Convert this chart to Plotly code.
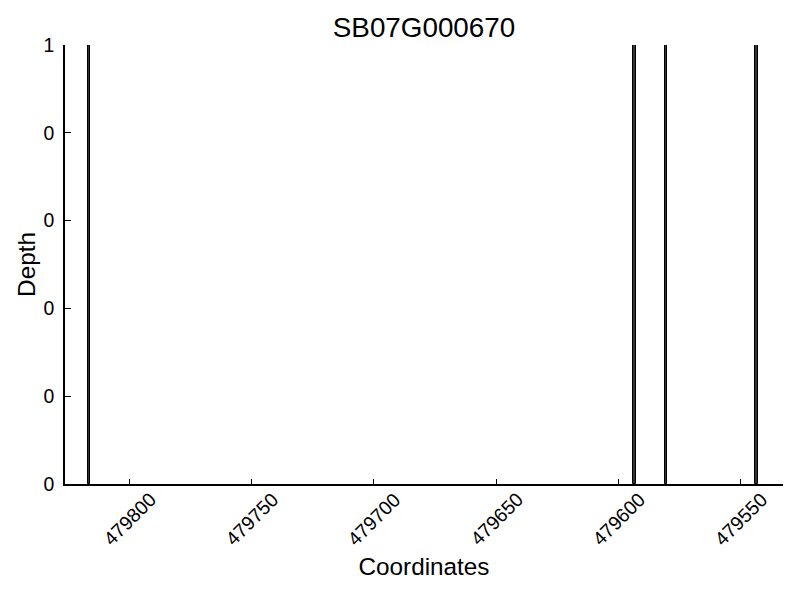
import plotly.graph_objects as go

# Data
positions = [479816, 479593, 479580, 479543]
depths = [1, 1, 1, 1]
x_tick_vals = [479800, 479750, 479700, 479650, 479600, 479550]
x_tick_text = ["479800", "479750", "479700", "479650", "479600", "479550"]
y_tick_vals = [0, 0.2, 0.4, 0.6, 0.8, 1.0]
y_tick_text = ["0", "0", "0", "0", "0", "1"]
title_text = "SB07G000670"

FONT = "Liberation Sans, Arial, sans-serif"

fig = go.Figure()
fig.add_trace(go.Bar(
    x=positions, y=depths, width=1, offset=0,
    marker=dict(color="#333333", line=dict(color="black", width=1)),
    showlegend=False,
))

annotations = []
for v, t in zip(x_tick_vals, x_tick_text):
    annotations.append(dict(
        x=v, y=0, xref="x", yref="paper", text=t, showarrow=False,
        textangle=-45, xanchor="center", yanchor="top", yshift=-1,
        font=dict(family=FONT, size=19.4, color="black"),
    ))

# page body has an 8px margin, so the figure is offset by 8px
fig.update_layout(
    width=800, height=600,
    paper_bgcolor="white", plot_bgcolor="white",
    margin=dict(l=57, r=25, t=37, b=124, autoexpand=False),
    title=dict(text=title_text, x=416 / 800, xanchor="center",
               y=1 - 19 / 600, yanchor="middle",
               font=dict(family=FONT, size=27.8, color="black")),
    bargap=0,
    annotations=annotations,
    xaxis=dict(
        range=[479826.3, 479532.7], automargin=False,
        tickvals=x_tick_vals, ticktext=x_tick_text, showticklabels=False,
        ticks="inside", ticklen=5, tickwidth=1, tickcolor="black",
        showline=True, linecolor="black", linewidth=1.5,
        showgrid=False, zeroline=False,
        title=dict(text="Coordinates", standoff=73,
                   font=dict(family=FONT, size=24.3, color="black")),
    ),
    yaxis=dict(
        range=[0, 1], automargin=False,
        tickvals=y_tick_vals, ticktext=y_tick_text,
        ticks="inside", ticklen=6, tickwidth=1, tickcolor="black",
        ticklabelstandoff=5,
        showline=True, linecolor="black", linewidth=1.5,
        showgrid=False, zeroline=False,
        tickfont=dict(family=FONT, size=19.4, color="black"),
        title=dict(text="Depth", standoff=1,
                   font=dict(family=FONT, size=24.3, color="black")),
    ),
)

fig.write_html("out.html")
